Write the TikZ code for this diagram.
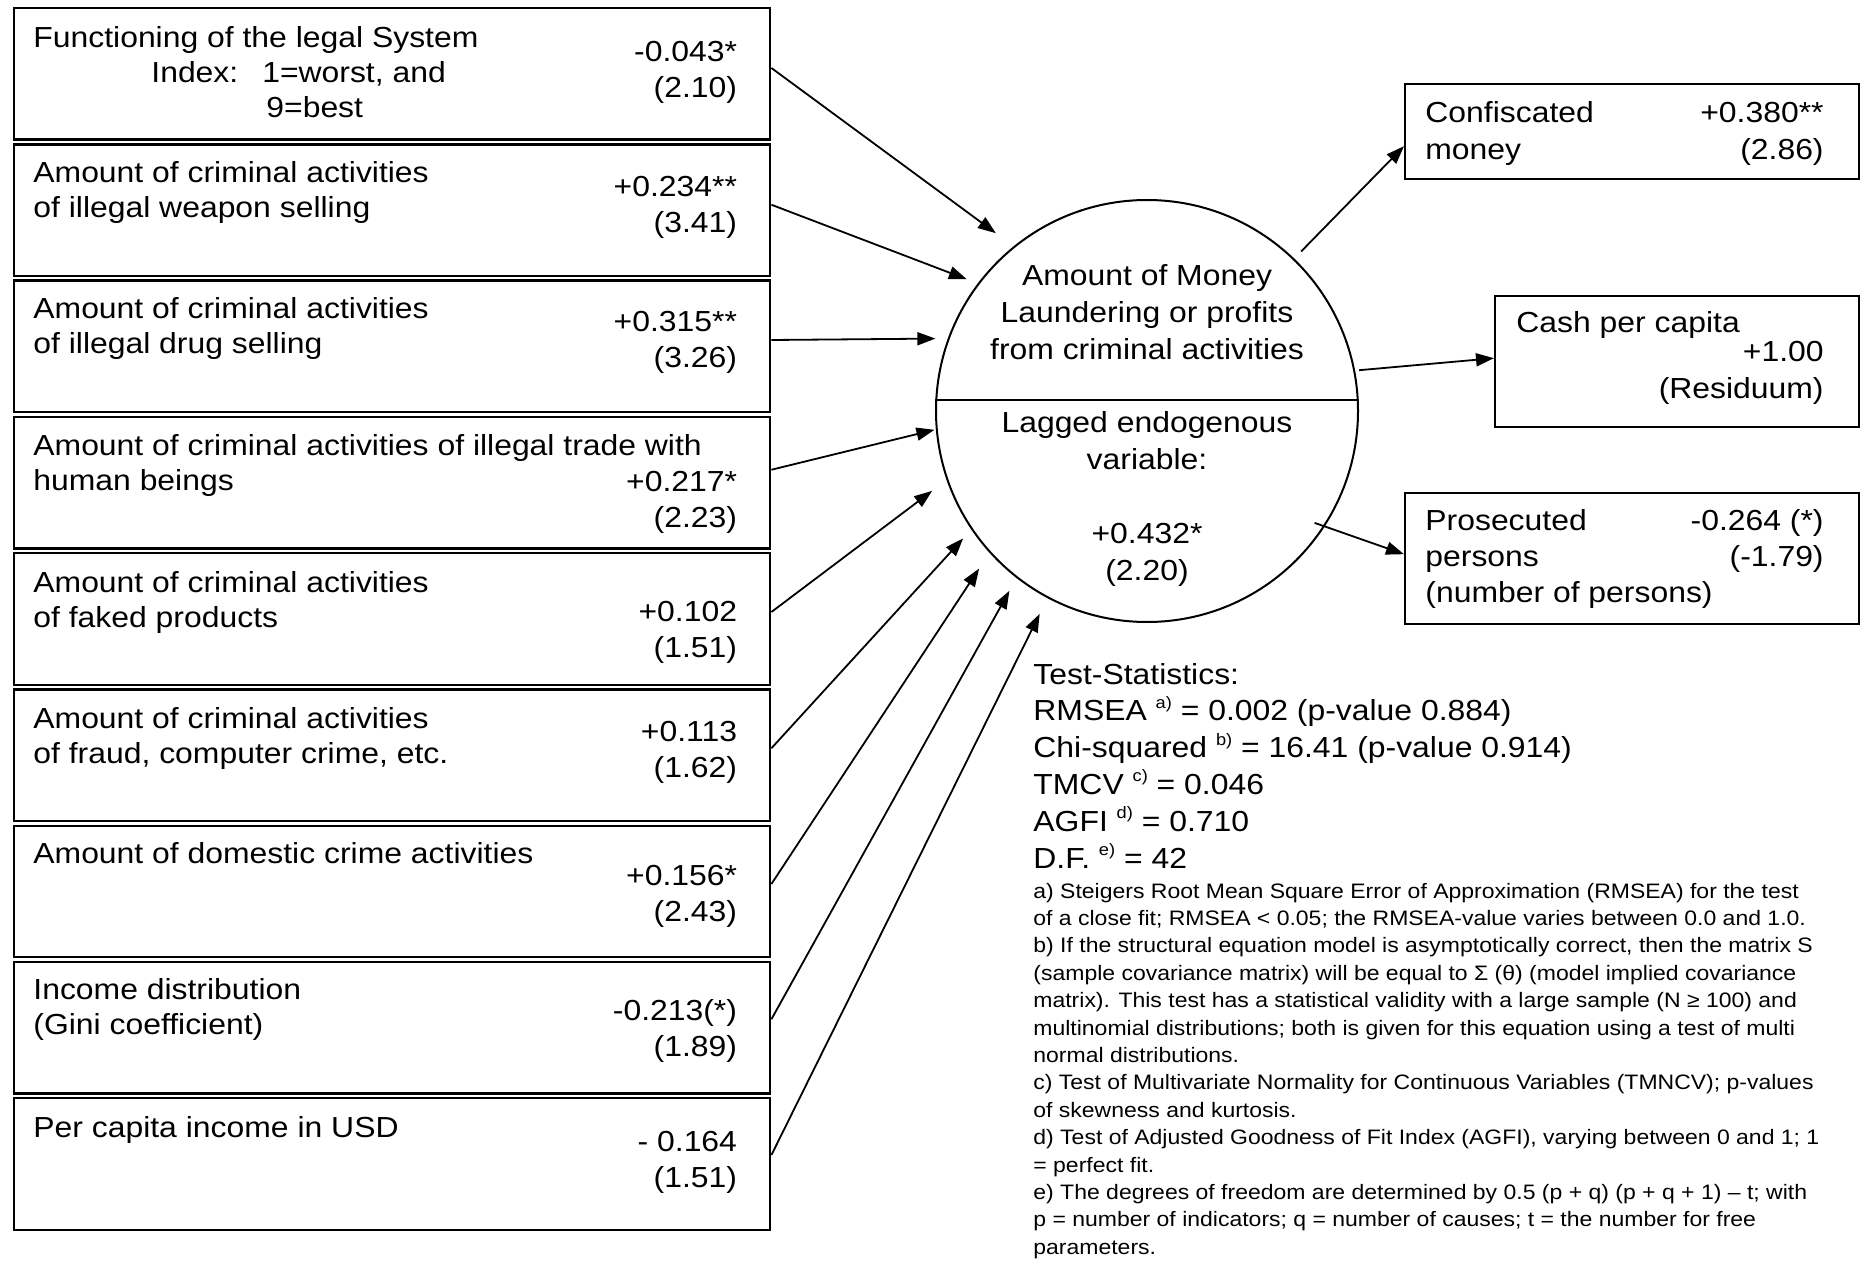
\documentclass[tikz,border=0pt]{standalone}
\usepackage{fontspec}
\setmainfont{Liberation Sans}[FakeStretch=1.1]
\usetikzlibrary{arrows.meta,calc}
\newcommand{\Tl}[1]{\begin{tabular}[t]{@{}l@{}}#1\end{tabular}}
\newcommand{\Tr}[1]{\begin{tabular}[t]{@{}r@{}}#1\end{tabular}}
\newcommand{\Tc}[1]{\begin{tabular}[t]{@{}c@{}}#1\end{tabular}}
\newcommand{\fsBox}{\fontsize{14.5}{17.5}\selectfont}
\newcommand{\fsNum}{\fontsize{14.5}{18}\selectfont}
\newcommand{\fsCirc}{\fontsize{14.5}{18.4}\selectfont}
\newcommand{\fsFoot}{\fontsize{10.45}{13.7}\selectfont}
\newcommand{\sups}[1]{\raisebox{6.3pt}{\fontsize{8.3}{8.3}\selectfont #1}}
\begin{document}
\begin{tikzpicture}[x=0.5pt,y=-0.5pt,
  lbox/.style={draw, line width=1.2pt, rectangle, inner sep=0pt, anchor=north west,
    minimum width=378pt, minimum height=65.75pt},
  rbox/.style={draw, line width=1.2pt, rectangle, inner sep=0pt, anchor=north west},
  txt/.style={inner sep=0pt},
  arr/.style={line width=0.9pt, -{Triangle[length=9pt,width=6.5pt]}},
]
\fill[white] (0,0) rectangle (1861,1261);
\useasboundingbox (0,0) rectangle (1861,1261);

% left boxes
\node[lbox] (b1) at (13,7) {};
\node[lbox] (b2) at (13,143.25) {};
\node[lbox] (b3) at (13,279.5) {};
\node[lbox] (b4) at (13,415.75) {};
\node[lbox] (b5) at (13,552) {};
\node[lbox] (b6) at (13,688.25) {};
\node[lbox] (b7) at (13,824.5) {};
\node[lbox] (b8) at (13,960.75) {};
\node[lbox] (b9) at (13,1097) {};

\node[txt, anchor=base west] (b1t) at ($(b1.north west)+(20,41)$) {\fsBox\Tl{Functioning of the legal System\\\hspace*{59pt}Index:\hspace{12pt}1=worst, and\\\hspace*{116.5pt}9=best}};
\node[txt, anchor=base east] (b1n) at ($(b1.north east)+(-34,55)$) {\fsNum\Tr{-0.043*\\(2.10)}};
\node[txt, anchor=base west] (b2t) at ($(b2.north west)+(20,39.5)$) {\fsBox\Tl{Amount of criminal activities\\of illegal weapon selling}};
\node[txt, anchor=base east] (b2n) at ($(b2.north east)+(-34,53)$) {\fsNum\Tr{+0.234**\\(3.41)}};
\node[txt, anchor=base west] (b3t) at ($(b3.north west)+(20,39)$) {\fsBox\Tl{Amount of criminal activities\\of illegal drug selling}};
\node[txt, anchor=base east] (b3n) at ($(b3.north east)+(-34,52.5)$) {\fsNum\Tr{+0.315**\\(3.26)}};
\node[txt, anchor=base west] (b4t) at ($(b4.north west)+(20,40)$) {\fsBox\Tl{Amount of criminal activities of illegal trade with\\human beings}};
\node[txt, anchor=base east] (b4n) at ($(b4.north east)+(-34,76)$) {\fsNum\Tr{+0.217*\\(2.23)}};
\node[txt, anchor=base west] (b5t) at ($(b5.north west)+(20,40)$) {\fsBox\Tl{Amount of criminal activities\\of faked products}};
\node[txt, anchor=base east] (b5n) at ($(b5.north east)+(-34,69)$) {\fsNum\Tr{+0.102\\(1.51)}};
\node[txt, anchor=base west] (b6t) at ($(b6.north west)+(20,40)$) {\fsBox\Tl{Amount of criminal activities\\of fraud, computer crime, etc.}};
\node[txt, anchor=base east] (b6n) at ($(b6.north east)+(-34,53)$) {\fsNum\Tr{+0.113\\(1.62)}};
\node[txt, anchor=base west] (b7t) at ($(b7.north west)+(20,39)$) {\fsBox\Tl{Amount of domestic crime activities}};
\node[txt, anchor=base east] (b7n) at ($(b7.north east)+(-34,61)$) {\fsNum\Tr{+0.156*\\(2.43)}};
\node[txt, anchor=base west] (b8t) at ($(b8.north west)+(20,39)$) {\fsBox\Tl{Income distribution\\(Gini coefficient)}};
\node[txt, anchor=base east] (b8n) at ($(b8.north east)+(-34,60)$) {\fsNum\Tr{-0.213(*)\\(1.89)}};
\node[txt, anchor=base west] (b9t) at ($(b9.north west)+(20,40)$) {\fsBox\Tl{Per capita income in USD}};
\node[txt, anchor=base east] (b9n) at ($(b9.north east)+(-34,54)$) {\fsNum\Tr{- 0.164\\(1.51)}};

% central circle
\node[circle, draw, line width=1pt, minimum size=211pt, inner sep=0pt] (ml) at (1147,411) {};
\draw[line width=1.3pt] (ml.177) -- (ml.3);
\node[txt, anchor=base] (mlu) at (1147,286) {\fsCirc\Tc{Amount of Money\\Laundering or profits\\from criminal activities}};
\node[txt, anchor=base] (mll) at (1147,433) {\fsCirc\Tc{Lagged endogenous\\variable:\\ \\+0.432*\\(2.20)}};

% right boxes
\node[rbox, minimum width=227pt, minimum height=47.5pt] (conf) at (1404,83) {};
\node[rbox, minimum width=182pt, minimum height=65.5pt] (cash) at (1494,295) {};
\node[rbox, minimum width=227pt, minimum height=65.5pt] (pros) at (1404,492) {};

\node[txt, anchor=base west] (conft) at (1425,123) {\fsCirc\Tl{Confiscated\\money}};
\node[txt, anchor=base east] (confn) at (1824,123) {\fsCirc\Tr{+0.380**\\(2.86)}};
\node[txt, anchor=base west] (casht) at (1516,333) {\fsBox Cash per capita};
\node[txt, anchor=base east] (cashn) at (1824,362) {\fsCirc\Tr{+1.00\\(Residuum)}};
\node[txt, anchor=base west] (prost) at (1425,530) {\fsNum\Tl{Prosecuted\\persons\\(number of persons)}};
\node[txt, anchor=base east] (prosn) at (1824,530) {\fsNum\Tr{-0.264 (*)\\(-1.79)}};

% arrows into the circle
\draw[arr, shorten >=11pt]  ($(b1.north east)+(0,61)$) -- (ml.129.5);
\draw[arr, shorten >=5.8pt] ($(b2.north east)+(0,61.5)$) -- (ml.143.75);
\draw[arr, shorten >=6.2pt] ($(b3.north east)+(0,60.5)$) -- (ml.160.65);
\draw[arr, shorten >=0.7pt] ($(b4.north east)+(0,54)$) -- (ml.185.1);
\draw[arr, shorten >=9pt]   ($(b5.north east)+(0,60)$) -- (ml.199.8);
\draw[arr, shorten >=6pt]   ($(b6.north east)+(0,60)$) -- (ml.214.1);
\draw[arr, shorten >=9.4pt] ($(b7.north east)+(0,59.5)$) -- (ml.222.1);
\draw[arr, shorten >=7.3pt] ($(b8.north east)+(0,58.5)$) -- (ml.232);
\draw[arr, shorten >=8.8pt] ($(b9.north east)+(0,58)$) -- (ml.242);

% arrows out of the circle
\draw[arr, shorten <=4.9pt] (ml.46.9) -- ($(conf.west)+(0,14.5)$);
\draw[arr, shorten <=2pt] (ml.11.1) -- ($(cash.west)+(0,-3.5)$);
\draw[arr, shorten <=-5.4pt] (ml.327.1) -- ($(pros.west)+(0,-4.5)$);

% test statistics
\node[txt, anchor=base west] (ts) at (1033,684) {\fsCirc\Tl{Test-Statistics:\\
RMSEA \sups{a)} = 0.002 (p-value 0.884)\\
Chi-squared \sups{b)} = 16.41 (p-value 0.914)\\
TMCV \sups{c)} = 0.046\\
AGFI \sups{d)} = 0.710\\
D.F. \sups{e)} = 42}};

\node[txt, anchor=base west] (fn) at (1033,898) {\fsFoot\Tl{a) Steigers Root Mean Square Error of Approximation (RMSEA) for the test\\
of a close fit; RMSEA < 0.05; the RMSEA-value varies between 0.0 and 1.0.\\
b) If the structural equation model is asymptotically correct, then the matrix S\\
(sample covariance matrix) will be equal to Σ (θ) (model implied covariance\\
matrix). This test has a statistical validity with a large sample (N ≥ 100) and\\
multinomial distributions; both is given for this equation using a test of multi\\
normal distributions.\\
c) Test of Multivariate Normality for Continuous Variables (TMNCV); p-values\\
of skewness and kurtosis.\\
d) Test of Adjusted Goodness of Fit Index (AGFI), varying between 0 and 1; 1\\
= perfect fit.\\
e) The degrees of freedom are determined by 0.5 (p + q) (p + q + 1) – t; with\\
p = number of indicators; q = number of causes; t = the number for free\\
parameters.}};
\end{tikzpicture}
\end{document}
